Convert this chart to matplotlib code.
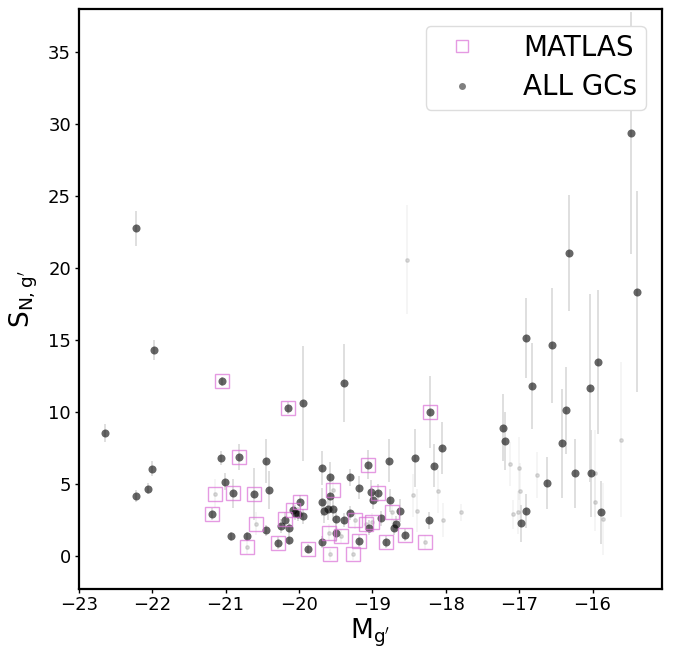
import matplotlib
matplotlib.use("Agg")
import matplotlib.pyplot as plt
from matplotlib.lines import Line2D
import numpy as np

# Globular-cluster specific frequency vs. absolute g' magnitude
gc_mag = [-22.22, -21.97, -22.64, -22.22, -22.05, -22.00,
          -21.05, -20.15, -19.94, -21.06, -20.81, -20.45, -21.01, -20.90, -20.61,
          -20.41, -21.18, -20.92, -20.71, -20.45, -20.28, -20.24, -20.19, -20.08,
          -19.99, -20.05, -20.01, -19.95, -20.14, -20.14, -19.88, -19.69, -19.69,
          -19.58, -19.58, -19.69, -19.66, -19.60, -19.54, -19.49, -19.49, -19.39,
          -18.21, -18.05, -18.16, -18.42, -18.77, -19.06, -19.31, -19.18, -19.02,
          -18.92, -18.99, -18.76, -18.62, -19.31, -19.39, -18.88, -19.04, -18.68,
          -18.71, -18.55, -19.18, -18.82, -18.23,
          -16.90, -16.55, -15.92, -16.82, -16.04, -16.36, -17.22, -17.19, -16.41,
          -16.24, -16.02, -16.62, -16.91, -16.98, -15.89, -15.48, -16.32, -15.40]
gc_sn = [22.77, 14.31, 8.57, 4.20, 4.70, 6.10,
         12.15, 10.30, 10.64, 6.85, 6.88, 6.62, 5.18, 4.39, 4.32,
         4.60, 2.93, 1.39, 1.39, 1.81, 0.93, 2.11, 2.51, 3.23,
         3.79, 3.04, 2.93, 2.77, 1.95, 1.16, 0.54, 1.00, 6.13,
         5.53, 4.20, 3.78, 3.13, 3.32, 3.28, 2.56, 1.63, 12.03,
         10.03, 7.55, 6.29, 6.85, 6.64, 6.36, 5.50, 4.76, 4.48,
         4.39, 3.88, 3.90, 3.16, 3.02, 2.53, 2.63, 2.00, 2.28,
         2.00, 1.48, 1.07, 0.98, 2.51,
         15.17, 14.66, 13.50, 11.83, 11.69, 10.13, 8.94, 8.01, 7.85,
         5.76, 5.76, 5.11, 3.14, 2.30, 3.05, 29.43, 21.07, 18.38]
gc_err = [1.2, 0.7, 0.6, 0.4, 0.4, 0.5,
          0.3, 0.4, 4.0, 0.5, 0.9, 1.5, 0.6, 1.0, 1.8,
          1.3, 0.4, 0.3, 0.3, 0.4, 0.4, 0.5, 0.6, 0.5,
          0.5, 0.5, 0.5, 0.5, 0.4, 0.4, 0.3, 0.4, 1.2,
          1.0, 1.2, 1.0, 0.8, 0.8, 0.8, 0.7, 0.6, 2.7,
          2.5, 1.8, 1.5, 2.0, 1.5, 1.0, 0.6, 0.8, 0.8,
          0.6, 0.6, 0.8, 0.8, 0.5, 0.5, 0.5, 0.5, 0.5,
          0.5, 0.4, 0.4, 0.4, 0.6,
          2.8, 4.0, 5.0, 3.0, 6.5, 3.0, 2.3, 2.0, 3.8,
          2.4, 3.0, 1.8, 1.2, 1.3, 2.2, 8.4, 4.0, 7.0]

# Low-significance measurements (drawn faint)
faint_mag = [-18.53, -18.45, -18.39, -18.10, -18.04, -17.79, -17.12, -17.00,
             -16.76, -16.99, -17.08, -17.01, -15.96, -15.96, -15.86, -15.61,
             -21.15, -20.71, -20.58, -19.54, -19.59, -19.58, -18.73, -19.23,
             -19.09, -19.01, -19.42, -19.26, -18.28]
faint_sn = [20.6, 4.25, 3.16, 4.53, 2.53, 3.05, 6.41, 6.11,
            5.67, 4.51, 2.93, 3.05, 5.76, 3.79, 2.58, 8.10,
            4.34, 0.65, 2.28, 4.62, 1.65, 0.14, 3.05, 2.51,
            2.25, 2.42, 1.41, 0.14, 1.00]
faint_err = [3.8, 1.5, 1.5, 1.5, 1.2, 0.6, 1.5, 2.2,
             1.6, 2.0, 1.0, 1.5, 3.0, 2.0, 2.5, 5.4,
             1.0, 0.5, 0.8, 1.0, 0.6, 0.4, 0.8, 0.6,
             0.6, 0.6, 0.5, 0.4, 0.5]

# MATLAS galaxies
matlas_mag = [-21.05, -20.15, -20.81, -20.90, -20.61, -21.18, -20.28, -20.19,
              -20.08, -19.99, -19.88, -18.21, -19.06, -18.92, -18.55, -19.18,
              -18.82, -21.15, -20.71, -20.58, -19.54, -19.59, -19.58, -18.73,
              -19.23, -19.09, -19.01, -19.42, -19.26, -18.28]
matlas_sn = [12.15, 10.30, 6.88, 4.39, 4.32, 2.93, 0.93, 2.60,
             3.23, 3.79, 0.54, 10.03, 6.36, 4.39, 1.48, 1.07,
             0.98, 4.34, 0.65, 2.28, 4.62, 1.65, 0.14, 3.05,
             2.51, 2.25, 2.42, 1.41, 0.14, 1.00]

fig = plt.figure(figsize=(6.73, 6.52), dpi=100)
ax = fig.add_axes([0.117, 0.097, 0.867, 0.889])

ax.errorbar(faint_mag, faint_sn, yerr=faint_err, fmt='o', color='gray',
            alpha=0.25, markersize=2.5, ecolor='lightgray', elinewidth=1.2,
            capsize=0, zorder=1)
ax.errorbar(gc_mag, gc_sn, yerr=gc_err, fmt='none', ecolor='#d9d9d9',
            elinewidth=1.2, capsize=0, zorder=1)
ax.plot(gc_mag, gc_sn, 'o', color='black', alpha=0.6, markersize=5.8,
        markeredgewidth=0, zorder=3)
ax.plot(matlas_mag, matlas_sn, 's', markerfacecolor='none',
        markeredgecolor='orchid', alpha=0.7, markersize=10.5,
        markeredgewidth=1.0, zorder=4)

ax.set_xlim(-23, -15.05)
ax.set_ylim(-2.25, 38)
ax.set_xticks([-23, -22, -21, -20, -19, -18, -17, -16])
ax.set_yticks([0, 5, 10, 15, 20, 25, 30, 35])
ax.tick_params(labelsize=13, length=3, width=1, pad=2.5)
for s in ax.spines.values():
    s.set_linewidth(1.6)

ax.set_xlabel(r"M$_{\mathrm{g'}}$", fontsize=19, labelpad=2)
ax.set_ylabel(r"S$_{\mathrm{N,g'}}$", fontsize=19, labelpad=6)

handles = [
    Line2D([], [], marker='s', linestyle='none', markerfacecolor='none',
           markeredgecolor='orchid', alpha=0.7, markersize=8),
    Line2D([], [], marker='o', linestyle='none', color='black', alpha=0.5,
           markersize=5, markeredgewidth=0),
]
ax.legend(handles, ['MATLAS', 'ALL GCs'], loc='upper right', fontsize=20,
          handletextpad=1.2, borderpad=0.3, labelspacing=0.4,
          borderaxespad=0.6, framealpha=1, edgecolor='#dddddd')

fig.savefig('out.png', dpi=100)
